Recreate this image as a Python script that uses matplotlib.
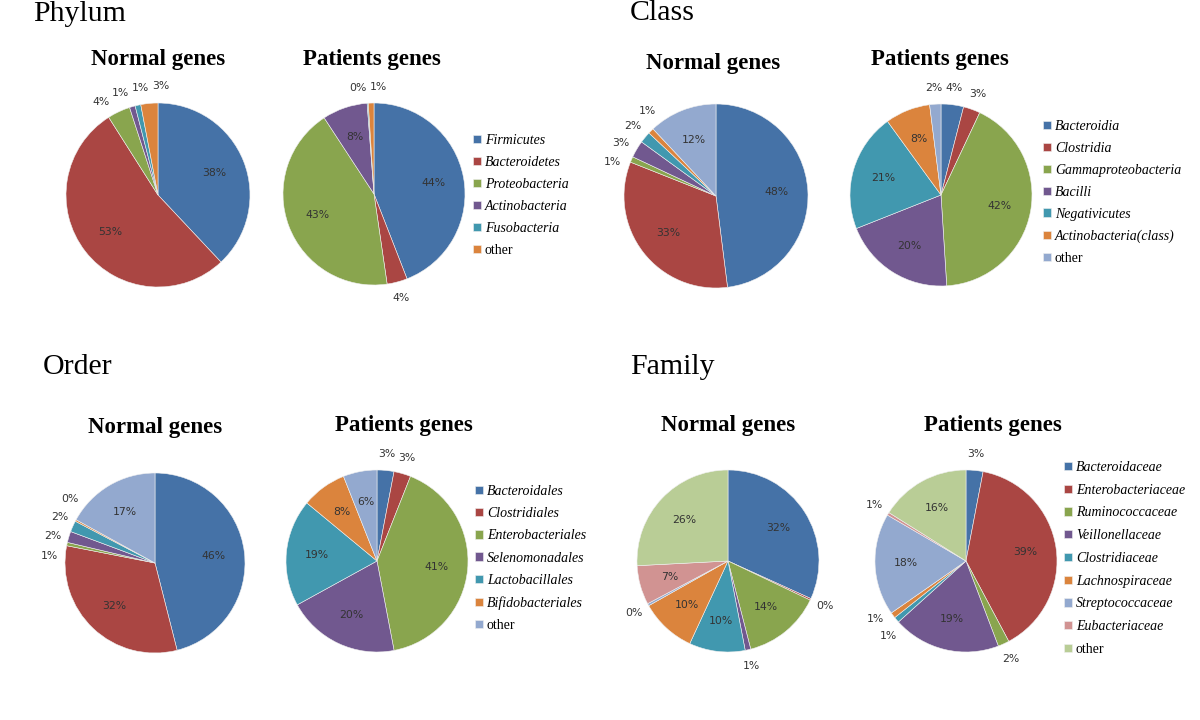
import numpy as np
import matplotlib
matplotlib.use("Agg")
import matplotlib.pyplot as plt

# ── Data ──
phylum_names = ["Firmicutes", "Bacteroidetes", "Proteobacteria", "Actinobacteria",
                "Fusobacteria", "other"]
phylum_normal = [38, 53, 4, 1, 1, 3]
phylum_patients = [44, 3.6, 43, 8, 0.2, 1]

class_names = ["Bacteroidia", "Clostridia", "Gammaproteobacteria", "Bacilli",
               "Negativicutes", "Actinobacteria(class)", "other"]
class_normal = [48, 33, 1, 3, 2, 1, 12]
class_patients = [4, 3, 42, 20, 21, 8, 2]

order_names = ["Bacteroidales", "Clostridiales", "Enterobacteriales", "Selenomonadales",
               "Lactobacillales", "Bifidobacteriales", "other"]
order_normal = [46, 32, 0.6, 2, 2, 0.3, 17]
order_patients = [3, 3, 41, 20, 19, 8, 6]

family_names = ["Bacteroidaceae", "Enterobacteriaceae", "Ruminococcaceae", "Veillonellaceae",
                "Clostridiaceae", "Lachnospiraceae", "Streptococcaceae", "Eubacteriaceae", "other"]
family_normal = [32, 0.3, 14, 1, 10, 10, 0.4, 7, 26]
family_patients = [3, 39, 2, 19, 1, 1, 18, 0.5, 16]

# ── Style ──
colors = ["#4572A7", "#AA4643", "#89A54E", "#71588F", "#4198AF",
          "#DB843D", "#93A9CF", "#D19392", "#B9CD96"]
W, H = 1200, 720
LABEL_KW = dict(fontsize=7.8, color="#333333", family="DejaVu Sans",
                ha="center", va="center")

fig = plt.figure(figsize=(12, 7.2), dpi=100)


def fx(px):
    return px / W


def fy(py):
    return 1 - py / H


def draw_pie(vals, cx, cy, r):
    ax = fig.add_axes([fx(cx - r), fy(cy + r), 2 * r / W, 2 * r / H])
    wedges, _ = ax.pie(vals, colors=colors[:len(vals)], startangle=90, counterclock=False,
                       wedgeprops=dict(edgecolor="#f0f0f0", linewidth=0.4))
    ax.set_xlim(-1, 1)
    ax.set_ylim(-1, 1)
    ax.axis("off")

    total = float(sum(vals))
    cum = np.cumsum([0] + list(vals))[:-1]
    mids = [90 - 360 * (c + v / 2) / total for c, v in zip(cum, vals)]
    labels = [f"{int(round(100 * v / total))}%" for v in vals]

    outside = [(m, lab) for m, v, lab in zip(mids, vals, labels) if 100 * v / total < 5]
    for m, v, lab in zip(mids, vals, labels):
        if 100 * v / total >= 5:
            a = np.deg2rad(m)
            ax.text(0.66 * np.cos(a), 0.66 * np.sin(a), lab, **LABEL_KW)

    # spread small-slice labels so they don't collide
    outside.sort(key=lambda t: t[0])
    angs = [t[0] for t in outside]
    gap = 11
    for _ in range(100):
        for i in range(len(angs) - 1):
            d = angs[i + 1] - angs[i]
            if d < gap:
                push = (gap - d) / 2
                angs[i] -= push
                angs[i + 1] += push
    for a, (_, lab) in zip(angs, outside):
        ar = np.deg2rad(a)
        ax.text(1.18 * np.cos(ar), 1.18 * np.sin(ar), lab, **LABEL_KW)
    return wedges


def draw_legend(wedges, names, x, y, spacing=0.65):
    leg = fig.legend(wedges, names, loc="upper left", bbox_to_anchor=(fx(x), fy(y)),
                     frameon=False, borderpad=0, borderaxespad=0,
                     handlelength=0.55, handleheight=0.55, handletextpad=0.3,
                     labelspacing=spacing,
                     prop=dict(family="Liberation Serif", size=10))
    for t in leg.get_texts():
        if t.get_text() != "other":
            t.set_style("italic")


def title(txt, x, y):
    fig.text(fx(x), fy(y), txt, ha="center", va="center", fontsize=16.5,
             fontweight="bold", family="Liberation Serif")


def panel(txt, x, y):
    fig.text(fx(x), fy(y), txt, ha="left", va="center", fontsize=21.5,
             family="Liberation Serif")


# Phylum
panel("Phylum", 33, 14)
title("Normal genes", 158, 60)
title("Patients genes", 372, 60)
draw_pie(phylum_normal, 158, 195, 92)
w = draw_pie(phylum_patients, 374, 194, 91)
draw_legend(w, phylum_names, 473, 134)

# Class
panel("Class", 630, 13)
title("Normal genes", 713, 63)
title("Patients genes", 940, 60)
draw_pie(class_normal, 716, 196, 92)
w = draw_pie(class_patients, 941, 195, 91)
draw_legend(w, class_names, 1043, 120, spacing=0.64)

# Order
panel("Order", 43, 367)
title("Normal genes", 155, 428)
title("Patients genes", 404, 425)
draw_pie(order_normal, 155, 563, 90)
w = draw_pie(order_patients, 377, 561, 91)
draw_legend(w, order_names, 475, 485, spacing=0.66)

# Family
panel("Family", 630, 367)
title("Normal genes", 728, 426)
title("Patients genes", 993, 426)
draw_pie(family_normal, 728, 561, 91)
w = draw_pie(family_patients, 966, 561, 91)
draw_legend(w, family_names, 1064, 461, spacing=0.7)

fig.savefig("out.png", dpi=100, facecolor="white")
